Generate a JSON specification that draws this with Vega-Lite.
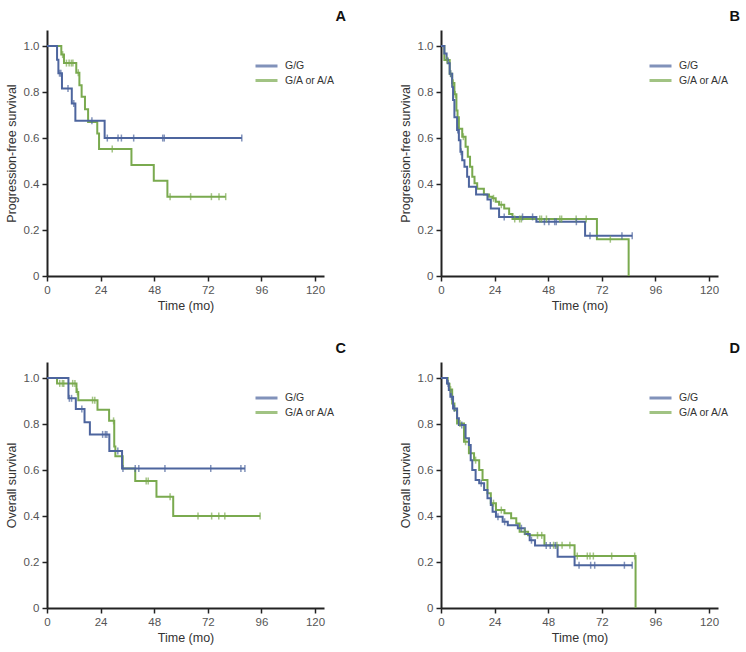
{
  "$schema": "https://vega.github.io/schema/vega-lite/v6.json",
  "padding": {"left": 5, "top": 8, "right": 5, "bottom": 5},
  "background": "white",
  "config": {
    "view": {"stroke": null},
    "axis": {
      "grid": false,
      "domainColor": "#222",
      "domainWidth": 2,
      "tickColor": "#222",
      "tickWidth": 1.5,
      "tickSize": 5,
      "labelColor": "#555",
      "labelFont": "Liberation Sans, Arial, sans-serif",
      "labelFontSize": 11.5,
      "labelPadding": 3,
      "labelFlush": false,
      "titleFont": "Liberation Sans, Arial, sans-serif",
      "titleFontSize": 12.5,
      "titleFontWeight": "normal",
      "titleColor": "#333"
    },
    "legend": {
      "title": null,
      "symbolType": "M-2.2,0H2.2",
      "symbolSize": 100,
      "symbolStrokeWidth": 3,
      "symbolFillColor": "transparent",
      "labelFont": "Liberation Sans, Arial, sans-serif",
      "labelFontSize": 10.5,
      "labelColor": "#333",
      "labelOffset": 12,
      "rowPadding": 1.5
    },
    "title": {
      "anchor": "end",
      "frame": "group",
      "font": "Liberation Sans, Arial, sans-serif",
      "fontSize": 14.5,
      "fontWeight": "bold",
      "color": "#111",
      "dx": 22,
      "offset": 6,
      "baseline": "alphabetic"
    }
  },
  "datasets": {
    "km": [
      {"p":"A","g":"G/A or A/A","t":0,"s":1,"c":0},
      {"p":"A","g":"G/A or A/A","t":6.4,"s":0.963,"c":0},
      {"p":"A","g":"G/A or A/A","t":7,"s":0.963,"c":1},
      {"p":"A","g":"G/A or A/A","t":7.6,"s":0.926,"c":0},
      {"p":"A","g":"G/A or A/A","t":8.7,"s":0.926,"c":1},
      {"p":"A","g":"G/A or A/A","t":9.9,"s":0.926,"c":1},
      {"p":"A","g":"G/A or A/A","t":10.9,"s":0.926,"c":1},
      {"p":"A","g":"G/A or A/A","t":11.6,"s":0.926,"c":1},
      {"p":"A","g":"G/A or A/A","t":13.1,"s":0.884,"c":0},
      {"p":"A","g":"G/A or A/A","t":14,"s":0.884,"c":1},
      {"p":"A","g":"G/A or A/A","t":14.5,"s":0.83,"c":0},
      {"p":"A","g":"G/A or A/A","t":15.5,"s":0.78,"c":0},
      {"p":"A","g":"G/A or A/A","t":17,"s":0.725,"c":0},
      {"p":"A","g":"G/A or A/A","t":18.4,"s":0.67,"c":0},
      {"p":"A","g":"G/A or A/A","t":22.5,"s":0.62,"c":0},
      {"p":"A","g":"G/A or A/A","t":23.3,"s":0.552,"c":0},
      {"p":"A","g":"G/A or A/A","t":29.2,"s":0.552,"c":1},
      {"p":"A","g":"G/A or A/A","t":37.8,"s":0.483,"c":0},
      {"p":"A","g":"G/A or A/A","t":47.8,"s":0.414,"c":0},
      {"p":"A","g":"G/A or A/A","t":53.9,"s":0.345,"c":0},
      {"p":"A","g":"G/A or A/A","t":55.1,"s":0.345,"c":1},
      {"p":"A","g":"G/A or A/A","t":64.3,"s":0.345,"c":1},
      {"p":"A","g":"G/A or A/A","t":73.6,"s":0.345,"c":1},
      {"p":"A","g":"G/A or A/A","t":77,"s":0.345,"c":1},
      {"p":"A","g":"G/A or A/A","t":80,"s":0.345,"c":1},

      {"p":"A","g":"G/G","t":0,"s":1,"c":0},
      {"p":"A","g":"G/G","t":4.5,"s":0.941,"c":0},
      {"p":"A","g":"G/G","t":5.1,"s":0.882,"c":0},
      {"p":"A","g":"G/G","t":5.6,"s":0.882,"c":1},
      {"p":"A","g":"G/G","t":6.2,"s":0.882,"c":1},
      {"p":"A","g":"G/G","t":6.7,"s":0.816,"c":0},
      {"p":"A","g":"G/G","t":9.4,"s":0.816,"c":1},
      {"p":"A","g":"G/G","t":11.1,"s":0.75,"c":0},
      {"p":"A","g":"G/G","t":12,"s":0.75,"c":1},
      {"p":"A","g":"G/G","t":12.7,"s":0.675,"c":0},
      {"p":"A","g":"G/G","t":20.1,"s":0.675,"c":1},
      {"p":"A","g":"G/G","t":25.8,"s":0.6,"c":0},
      {"p":"A","g":"G/G","t":27,"s":0.6,"c":1},
      {"p":"A","g":"G/G","t":31.8,"s":0.6,"c":1},
      {"p":"A","g":"G/G","t":33.3,"s":0.6,"c":1},
      {"p":"A","g":"G/G","t":38.8,"s":0.6,"c":1},
      {"p":"A","g":"G/G","t":51.8,"s":0.6,"c":1},
      {"p":"A","g":"G/G","t":52.5,"s":0.6,"c":1},
      {"p":"A","g":"G/G","t":87.2,"s":0.6,"c":1},

      {"p":"B","g":"G/A or A/A","t":0,"s":1,"c":0},
      {"p":"B","g":"G/A or A/A","t":1.5,"s":0.94,"c":0},
      {"p":"B","g":"G/A or A/A","t":2.7,"s":0.94,"c":1},
      {"p":"B","g":"G/A or A/A","t":3.9,"s":0.88,"c":0},
      {"p":"B","g":"G/A or A/A","t":4.3,"s":0.88,"c":1},
      {"p":"B","g":"G/A or A/A","t":5,"s":0.84,"c":0},
      {"p":"B","g":"G/A or A/A","t":5.5,"s":0.84,"c":1},
      {"p":"B","g":"G/A or A/A","t":6,"s":0.79,"c":0},
      {"p":"B","g":"G/A or A/A","t":6.4,"s":0.79,"c":1},
      {"p":"B","g":"G/A or A/A","t":6.9,"s":0.72,"c":0},
      {"p":"B","g":"G/A or A/A","t":7.4,"s":0.69,"c":0},
      {"p":"B","g":"G/A or A/A","t":8,"s":0.64,"c":0},
      {"p":"B","g":"G/A or A/A","t":9.5,"s":0.606,"c":0},
      {"p":"B","g":"G/A or A/A","t":10,"s":0.606,"c":1},
      {"p":"B","g":"G/A or A/A","t":11,"s":0.562,"c":0},
      {"p":"B","g":"G/A or A/A","t":12,"s":0.519,"c":0},
      {"p":"B","g":"G/A or A/A","t":13,"s":0.475,"c":0},
      {"p":"B","g":"G/A or A/A","t":14,"s":0.432,"c":0},
      {"p":"B","g":"G/A or A/A","t":15,"s":0.403,"c":0},
      {"p":"B","g":"G/A or A/A","t":16.2,"s":0.38,"c":0},
      {"p":"B","g":"G/A or A/A","t":19.2,"s":0.355,"c":0},
      {"p":"B","g":"G/A or A/A","t":21.5,"s":0.345,"c":0},
      {"p":"B","g":"G/A or A/A","t":23,"s":0.338,"c":0},
      {"p":"B","g":"G/A or A/A","t":23.5,"s":0.338,"c":1},
      {"p":"B","g":"G/A or A/A","t":24.5,"s":0.323,"c":0},
      {"p":"B","g":"G/A or A/A","t":26,"s":0.31,"c":0},
      {"p":"B","g":"G/A or A/A","t":27,"s":0.31,"c":1},
      {"p":"B","g":"G/A or A/A","t":28.3,"s":0.294,"c":0},
      {"p":"B","g":"G/A or A/A","t":30.5,"s":0.27,"c":0},
      {"p":"B","g":"G/A or A/A","t":32,"s":0.248,"c":0},
      {"p":"B","g":"G/A or A/A","t":33,"s":0.248,"c":1},
      {"p":"B","g":"G/A or A/A","t":35.2,"s":0.248,"c":1},
      {"p":"B","g":"G/A or A/A","t":36,"s":0.248,"c":1},
      {"p":"B","g":"G/A or A/A","t":44.2,"s":0.248,"c":1},
      {"p":"B","g":"G/A or A/A","t":45,"s":0.248,"c":1},
      {"p":"B","g":"G/A or A/A","t":47.2,"s":0.248,"c":1},
      {"p":"B","g":"G/A or A/A","t":53.2,"s":0.248,"c":1},
      {"p":"B","g":"G/A or A/A","t":54,"s":0.248,"c":1},
      {"p":"B","g":"G/A or A/A","t":60.5,"s":0.248,"c":1},
      {"p":"B","g":"G/A or A/A","t":65,"s":0.248,"c":1},
      {"p":"B","g":"G/A or A/A","t":69.8,"s":0.16,"c":0},
      {"p":"B","g":"G/A or A/A","t":75.8,"s":0.16,"c":1},
      {"p":"B","g":"G/A or A/A","t":84,"s":0,"c":0},

      {"p":"B","g":"G/G","t":0,"s":1,"c":0},
      {"p":"B","g":"G/G","t":1.5,"s":0.968,"c":0},
      {"p":"B","g":"G/G","t":2.5,"s":0.946,"c":0},
      {"p":"B","g":"G/G","t":3,"s":0.925,"c":0},
      {"p":"B","g":"G/G","t":3.9,"s":0.88,"c":0},
      {"p":"B","g":"G/G","t":4.3,"s":0.88,"c":1},
      {"p":"B","g":"G/G","t":5,"s":0.823,"c":0},
      {"p":"B","g":"G/G","t":5.4,"s":0.765,"c":0},
      {"p":"B","g":"G/G","t":6,"s":0.69,"c":0},
      {"p":"B","g":"G/G","t":7.2,"s":0.635,"c":0},
      {"p":"B","g":"G/G","t":7.5,"s":0.635,"c":1},
      {"p":"B","g":"G/G","t":8,"s":0.59,"c":0},
      {"p":"B","g":"G/G","t":8.7,"s":0.54,"c":0},
      {"p":"B","g":"G/G","t":9,"s":0.54,"c":1},
      {"p":"B","g":"G/G","t":9.5,"s":0.504,"c":0},
      {"p":"B","g":"G/G","t":10.5,"s":0.475,"c":0},
      {"p":"B","g":"G/G","t":11.7,"s":0.432,"c":0},
      {"p":"B","g":"G/G","t":12.5,"s":0.388,"c":0},
      {"p":"B","g":"G/G","t":15.7,"s":0.355,"c":0},
      {"p":"B","g":"G/G","t":20.8,"s":0.333,"c":0},
      {"p":"B","g":"G/G","t":22.3,"s":0.294,"c":0},
      {"p":"B","g":"G/G","t":26,"s":0.257,"c":0},
      {"p":"B","g":"G/G","t":28.3,"s":0.257,"c":1},
      {"p":"B","g":"G/G","t":36.5,"s":0.257,"c":1},
      {"p":"B","g":"G/G","t":41,"s":0.257,"c":1},
      {"p":"B","g":"G/G","t":42.7,"s":0.236,"c":0},
      {"p":"B","g":"G/G","t":46.3,"s":0.236,"c":1},
      {"p":"B","g":"G/G","t":48.3,"s":0.236,"c":1},
      {"p":"B","g":"G/G","t":50.9,"s":0.236,"c":1},
      {"p":"B","g":"G/G","t":51.6,"s":0.236,"c":1},
      {"p":"B","g":"G/G","t":60.6,"s":0.236,"c":1},
      {"p":"B","g":"G/G","t":64.5,"s":0.175,"c":0},
      {"p":"B","g":"G/G","t":66.7,"s":0.175,"c":1},
      {"p":"B","g":"G/G","t":81,"s":0.175,"c":1},
      {"p":"B","g":"G/G","t":85.6,"s":0.175,"c":1},

      {"p":"C","g":"G/A or A/A","t":0,"s":1,"c":0},
      {"p":"C","g":"G/A or A/A","t":4.5,"s":0.977,"c":0},
      {"p":"C","g":"G/A or A/A","t":5.7,"s":0.977,"c":1},
      {"p":"C","g":"G/A or A/A","t":6.9,"s":0.977,"c":1},
      {"p":"C","g":"G/A or A/A","t":7.5,"s":0.977,"c":1},
      {"p":"C","g":"G/A or A/A","t":11.5,"s":0.977,"c":1},
      {"p":"C","g":"G/A or A/A","t":12.5,"s":0.977,"c":1},
      {"p":"C","g":"G/A or A/A","t":13.2,"s":0.94,"c":0},
      {"p":"C","g":"G/A or A/A","t":13.6,"s":0.94,"c":1},
      {"p":"C","g":"G/A or A/A","t":14,"s":0.904,"c":0},
      {"p":"C","g":"G/A or A/A","t":20.4,"s":0.904,"c":1},
      {"p":"C","g":"G/A or A/A","t":21.4,"s":0.904,"c":1},
      {"p":"C","g":"G/A or A/A","t":22.6,"s":0.862,"c":0},
      {"p":"C","g":"G/A or A/A","t":27.8,"s":0.814,"c":0},
      {"p":"C","g":"G/A or A/A","t":29.8,"s":0.814,"c":1},
      {"p":"C","g":"G/A or A/A","t":30.1,"s":0.703,"c":0},
      {"p":"C","g":"G/A or A/A","t":30.6,"s":0.66,"c":0},
      {"p":"C","g":"G/A or A/A","t":33.9,"s":0.607,"c":0},
      {"p":"C","g":"G/A or A/A","t":39.5,"s":0.552,"c":0},
      {"p":"C","g":"G/A or A/A","t":44.4,"s":0.552,"c":1},
      {"p":"C","g":"G/A or A/A","t":45.3,"s":0.552,"c":1},
      {"p":"C","g":"G/A or A/A","t":49,"s":0.484,"c":0},
      {"p":"C","g":"G/A or A/A","t":55.1,"s":0.484,"c":1},
      {"p":"C","g":"G/A or A/A","t":56.5,"s":0.4,"c":0},
      {"p":"C","g":"G/A or A/A","t":67.6,"s":0.4,"c":1},
      {"p":"C","g":"G/A or A/A","t":73.7,"s":0.4,"c":1},
      {"p":"C","g":"G/A or A/A","t":76.9,"s":0.4,"c":1},
      {"p":"C","g":"G/A or A/A","t":79.6,"s":0.4,"c":1},
      {"p":"C","g":"G/A or A/A","t":95.4,"s":0.4,"c":1},

      {"p":"C","g":"G/G","t":0,"s":1,"c":0},
      {"p":"C","g":"G/G","t":9.6,"s":0.912,"c":0},
      {"p":"C","g":"G/G","t":10,"s":0.912,"c":1},
      {"p":"C","g":"G/G","t":11,"s":0.912,"c":1},
      {"p":"C","g":"G/G","t":12.9,"s":0.866,"c":0},
      {"p":"C","g":"G/G","t":15.6,"s":0.866,"c":1},
      {"p":"C","g":"G/G","t":16.8,"s":0.808,"c":0},
      {"p":"C","g":"G/G","t":19.2,"s":0.755,"c":0},
      {"p":"C","g":"G/G","t":24.9,"s":0.755,"c":1},
      {"p":"C","g":"G/G","t":26.1,"s":0.755,"c":1},
      {"p":"C","g":"G/G","t":26.8,"s":0.755,"c":1},
      {"p":"C","g":"G/G","t":27.9,"s":0.683,"c":0},
      {"p":"C","g":"G/G","t":31.7,"s":0.683,"c":1},
      {"p":"C","g":"G/G","t":33.6,"s":0.607,"c":0},
      {"p":"C","g":"G/G","t":34,"s":0.607,"c":1},
      {"p":"C","g":"G/G","t":39.5,"s":0.607,"c":1},
      {"p":"C","g":"G/G","t":41.1,"s":0.607,"c":1},
      {"p":"C","g":"G/G","t":52.8,"s":0.607,"c":1},
      {"p":"C","g":"G/G","t":73.3,"s":0.607,"c":1},
      {"p":"C","g":"G/G","t":86.8,"s":0.607,"c":1},
      {"p":"C","g":"G/G","t":88.6,"s":0.607,"c":1},

      {"p":"D","g":"G/A or A/A","t":0,"s":1,"c":0},
      {"p":"D","g":"G/A or A/A","t":3,"s":0.975,"c":0},
      {"p":"D","g":"G/A or A/A","t":3.8,"s":0.95,"c":0},
      {"p":"D","g":"G/A or A/A","t":4.3,"s":0.95,"c":1},
      {"p":"D","g":"G/A or A/A","t":5,"s":0.89,"c":0},
      {"p":"D","g":"G/A or A/A","t":6,"s":0.86,"c":0},
      {"p":"D","g":"G/A or A/A","t":7.2,"s":0.803,"c":0},
      {"p":"D","g":"G/A or A/A","t":8.5,"s":0.803,"c":1},
      {"p":"D","g":"G/A or A/A","t":10.3,"s":0.723,"c":0},
      {"p":"D","g":"G/A or A/A","t":11,"s":0.723,"c":1},
      {"p":"D","g":"G/A or A/A","t":12.5,"s":0.673,"c":0},
      {"p":"D","g":"G/A or A/A","t":14.8,"s":0.643,"c":0},
      {"p":"D","g":"G/A or A/A","t":15.5,"s":0.643,"c":1},
      {"p":"D","g":"G/A or A/A","t":17.1,"s":0.6,"c":0},
      {"p":"D","g":"G/A or A/A","t":18.6,"s":0.557,"c":0},
      {"p":"D","g":"G/A or A/A","t":20.8,"s":0.499,"c":0},
      {"p":"D","g":"G/A or A/A","t":22.3,"s":0.456,"c":0},
      {"p":"D","g":"G/A or A/A","t":23.5,"s":0.456,"c":1},
      {"p":"D","g":"G/A or A/A","t":24.6,"s":0.426,"c":0},
      {"p":"D","g":"G/A or A/A","t":27,"s":0.426,"c":1},
      {"p":"D","g":"G/A or A/A","t":28.4,"s":0.412,"c":0},
      {"p":"D","g":"G/A or A/A","t":31.4,"s":0.39,"c":0},
      {"p":"D","g":"G/A or A/A","t":33.7,"s":0.368,"c":0},
      {"p":"D","g":"G/A or A/A","t":35.2,"s":0.332,"c":0},
      {"p":"D","g":"G/A or A/A","t":37.5,"s":0.332,"c":1},
      {"p":"D","g":"G/A or A/A","t":39,"s":0.316,"c":0},
      {"p":"D","g":"G/A or A/A","t":43.2,"s":0.316,"c":1},
      {"p":"D","g":"G/A or A/A","t":45.1,"s":0.316,"c":1},
      {"p":"D","g":"G/A or A/A","t":46.3,"s":0.273,"c":0},
      {"p":"D","g":"G/A or A/A","t":50.4,"s":0.273,"c":1},
      {"p":"D","g":"G/A or A/A","t":51.9,"s":0.273,"c":1},
      {"p":"D","g":"G/A or A/A","t":54.2,"s":0.273,"c":1},
      {"p":"D","g":"G/A or A/A","t":57.7,"s":0.273,"c":1},
      {"p":"D","g":"G/A or A/A","t":59.8,"s":0.226,"c":0},
      {"p":"D","g":"G/A or A/A","t":61,"s":0.226,"c":1},
      {"p":"D","g":"G/A or A/A","t":65.5,"s":0.226,"c":1},
      {"p":"D","g":"G/A or A/A","t":66.7,"s":0.226,"c":1},
      {"p":"D","g":"G/A or A/A","t":68.2,"s":0.226,"c":1},
      {"p":"D","g":"G/A or A/A","t":76.4,"s":0.226,"c":1},
      {"p":"D","g":"G/A or A/A","t":86.7,"s":0.226,"c":1},
      {"p":"D","g":"G/A or A/A","t":87.1,"s":0,"c":0},

      {"p":"D","g":"G/G","t":0,"s":1,"c":0},
      {"p":"D","g":"G/G","t":2.7,"s":0.977,"c":0},
      {"p":"D","g":"G/G","t":3.2,"s":0.977,"c":1},
      {"p":"D","g":"G/G","t":3.5,"s":0.948,"c":0},
      {"p":"D","g":"G/G","t":4.2,"s":0.919,"c":0},
      {"p":"D","g":"G/G","t":4.7,"s":0.919,"c":1},
      {"p":"D","g":"G/G","t":5.4,"s":0.868,"c":0},
      {"p":"D","g":"G/G","t":6,"s":0.868,"c":1},
      {"p":"D","g":"G/G","t":7.2,"s":0.825,"c":0},
      {"p":"D","g":"G/G","t":8,"s":0.796,"c":0},
      {"p":"D","g":"G/G","t":9.3,"s":0.796,"c":1},
      {"p":"D","g":"G/G","t":11,"s":0.738,"c":0},
      {"p":"D","g":"G/G","t":12.5,"s":0.709,"c":0},
      {"p":"D","g":"G/G","t":13.3,"s":0.643,"c":0},
      {"p":"D","g":"G/G","t":14,"s":0.6,"c":0},
      {"p":"D","g":"G/G","t":15.5,"s":0.557,"c":0},
      {"p":"D","g":"G/G","t":17.1,"s":0.543,"c":0},
      {"p":"D","g":"G/G","t":18,"s":0.543,"c":1},
      {"p":"D","g":"G/G","t":19.3,"s":0.513,"c":0},
      {"p":"D","g":"G/G","t":20.8,"s":0.477,"c":0},
      {"p":"D","g":"G/G","t":22.3,"s":0.448,"c":0},
      {"p":"D","g":"G/G","t":23.1,"s":0.419,"c":0},
      {"p":"D","g":"G/G","t":24.6,"s":0.397,"c":0},
      {"p":"D","g":"G/G","t":25.5,"s":0.397,"c":1},
      {"p":"D","g":"G/G","t":27.6,"s":0.375,"c":0},
      {"p":"D","g":"G/G","t":28.5,"s":0.375,"c":1},
      {"p":"D","g":"G/G","t":29.9,"s":0.36,"c":0},
      {"p":"D","g":"G/G","t":34.4,"s":0.347,"c":0},
      {"p":"D","g":"G/G","t":36,"s":0.347,"c":1},
      {"p":"D","g":"G/G","t":37.5,"s":0.322,"c":0},
      {"p":"D","g":"G/G","t":39.7,"s":0.295,"c":0},
      {"p":"D","g":"G/G","t":40.5,"s":0.295,"c":1},
      {"p":"D","g":"G/G","t":42.1,"s":0.272,"c":0},
      {"p":"D","g":"G/G","t":47.1,"s":0.272,"c":1},
      {"p":"D","g":"G/G","t":48.9,"s":0.272,"c":1},
      {"p":"D","g":"G/G","t":51.2,"s":0.272,"c":1},
      {"p":"D","g":"G/G","t":52.2,"s":0.223,"c":0},
      {"p":"D","g":"G/G","t":59.8,"s":0.186,"c":0},
      {"p":"D","g":"G/G","t":61.8,"s":0.186,"c":1},
      {"p":"D","g":"G/G","t":67,"s":0.186,"c":1},
      {"p":"D","g":"G/G","t":68.8,"s":0.186,"c":1},
      {"p":"D","g":"G/G","t":82.1,"s":0.186,"c":1},
      {"p":"D","g":"G/G","t":85.6,"s":0.186,"c":1}
    ]
  },
  "columns": 2,
  "spacing": {"row": 86, "column": 117},
  "bounds": "flush",
  "resolve": {"scale": {"color": "independent", "x": "independent", "y": "independent"}, "legend": {"color": "independent"}},
  "concat": [
    {
      "width": 277, "height": 246,
      "title": {"text": "A"},
      "data": {"name": "km"},
      "transform": [{"filter": "datum.p === 'A'"}],
      "encoding": {
        "x": {"field": "t", "type": "quantitative", "scale": {"domain": [0, 124], "nice": false, "zero": false},
              "axis": {"values": [0, 24, 48, 72, 96, 120], "title": "Time (mo)"}},
        "y": {"field": "s", "type": "quantitative", "scale": {"domain": [0, 1.07], "nice": false},
              "axis": {"values": [0, 0.2, 0.4, 0.6, 0.8, 1.0], "title": "Progression-free survival", "labelExpr": "datum.value == 0 ? '0' : format(datum.value, '.1f')", "titlePadding": 5}},
        "color": {"field": "g", "type": "nominal", "scale": {"domain": ["G/G", "G/A or A/A"], "range": ["#4d659e", "#7aaa4f"]}, "legend": {"orient": "none", "legendX": 213, "legendY": 29.5}}
      },
      "layer": [
        {"mark": {"type": "line", "interpolate": "step-after", "strokeWidth": 2}},
        {"transform": [{"filter": "datum.c === 1"}], "mark": {"type": "tick", "orient": "vertical", "size": 7, "thickness": 1.5}}
      ]
    },
    {
      "width": 277, "height": 246,
      "title": {"text": "B"},
      "data": {"name": "km"},
      "transform": [{"filter": "datum.p === 'B'"}],
      "encoding": {
        "x": {"field": "t", "type": "quantitative", "scale": {"domain": [0, 124], "nice": false, "zero": false},
              "axis": {"values": [0, 24, 48, 72, 96, 120], "title": "Time (mo)"}},
        "y": {"field": "s", "type": "quantitative", "scale": {"domain": [0, 1.07], "nice": false},
              "axis": {"values": [0, 0.2, 0.4, 0.6, 0.8, 1.0], "title": "Progression-free survival", "labelExpr": "datum.value == 0 ? '0' : format(datum.value, '.1f')", "titlePadding": 5}},
        "color": {"field": "g", "type": "nominal", "scale": {"domain": ["G/G", "G/A or A/A"], "range": ["#4d659e", "#7aaa4f"]}, "legend": {"orient": "none", "legendX": 213, "legendY": 29.5}}
      },
      "layer": [
        {"mark": {"type": "line", "interpolate": "step-after", "strokeWidth": 2}},
        {"transform": [{"filter": "datum.c === 1"}], "mark": {"type": "tick", "orient": "vertical", "size": 7, "thickness": 1.5}}
      ]
    },
    {
      "width": 277, "height": 246,
      "title": {"text": "C"},
      "data": {"name": "km"},
      "transform": [{"filter": "datum.p === 'C'"}],
      "encoding": {
        "x": {"field": "t", "type": "quantitative", "scale": {"domain": [0, 124], "nice": false, "zero": false},
              "axis": {"values": [0, 24, 48, 72, 96, 120], "title": "Time (mo)"}},
        "y": {"field": "s", "type": "quantitative", "scale": {"domain": [0, 1.07], "nice": false},
              "axis": {"values": [0, 0.2, 0.4, 0.6, 0.8, 1.0], "title": "Overall survival", "labelExpr": "datum.value == 0 ? '0' : format(datum.value, '.1f')", "titlePadding": 5}},
        "color": {"field": "g", "type": "nominal", "scale": {"domain": ["G/G", "G/A or A/A"], "range": ["#4d659e", "#7aaa4f"]}, "legend": {"orient": "none", "legendX": 213, "legendY": 29.5}}
      },
      "layer": [
        {"mark": {"type": "line", "interpolate": "step-after", "strokeWidth": 2}},
        {"transform": [{"filter": "datum.c === 1"}], "mark": {"type": "tick", "orient": "vertical", "size": 7, "thickness": 1.5}}
      ]
    },
    {
      "width": 277, "height": 246,
      "title": {"text": "D"},
      "data": {"name": "km"},
      "transform": [{"filter": "datum.p === 'D'"}],
      "encoding": {
        "x": {"field": "t", "type": "quantitative", "scale": {"domain": [0, 124], "nice": false, "zero": false},
              "axis": {"values": [0, 24, 48, 72, 96, 120], "title": "Time (mo)"}},
        "y": {"field": "s", "type": "quantitative", "scale": {"domain": [0, 1.07], "nice": false},
              "axis": {"values": [0, 0.2, 0.4, 0.6, 0.8, 1.0], "title": "Overall survival", "labelExpr": "datum.value == 0 ? '0' : format(datum.value, '.1f')", "titlePadding": 5}},
        "color": {"field": "g", "type": "nominal", "scale": {"domain": ["G/G", "G/A or A/A"], "range": ["#4d659e", "#7aaa4f"]}, "legend": {"orient": "none", "legendX": 213, "legendY": 29.5}}
      },
      "layer": [
        {"mark": {"type": "line", "interpolate": "step-after", "strokeWidth": 2}},
        {"transform": [{"filter": "datum.c === 1"}], "mark": {"type": "tick", "orient": "vertical", "size": 7, "thickness": 1.5}}
      ]
    }
  ]
}
